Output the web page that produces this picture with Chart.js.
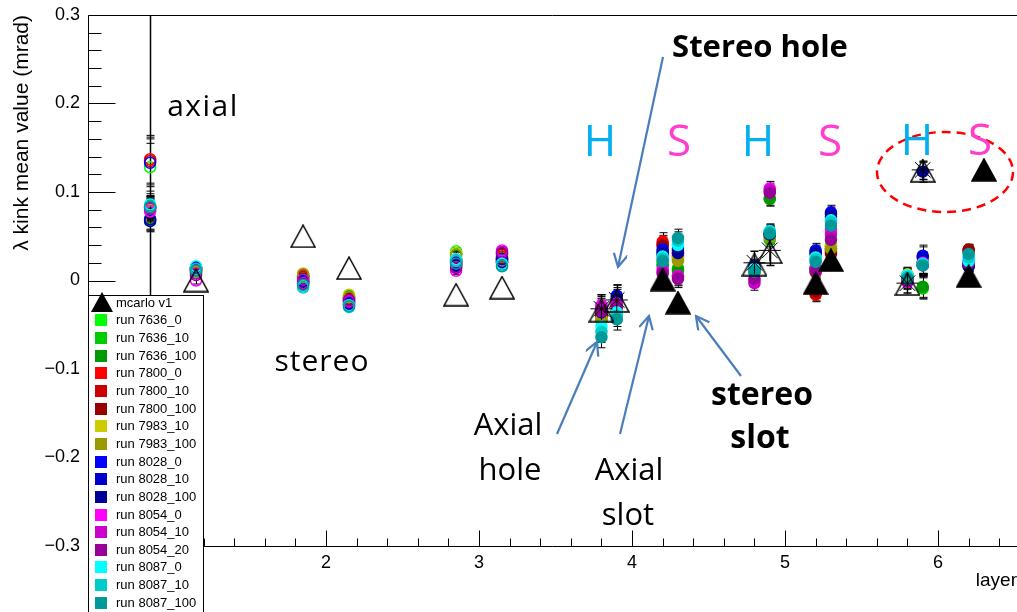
<!DOCTYPE html>
<html>
<head>
<meta charset="utf-8">
<script src="https://cdn.jsdelivr.net/npm/chart.js@4.4.1/dist/chart.umd.min.js"></script>
<style>
html, body { margin: 0; padding: 0; background: #fff; }
#wrap { position: relative; width: 1017px; height: 612px; overflow: hidden; }
#c { position: absolute; left: 0; top: 0; }
#ann { position: absolute; left: 0; top: 0; }
.note { position: absolute; font-family: "Open Sans", sans-serif; white-space: nowrap; line-height: 1; transform: translateX(-50%); color: #000; }
#legend { position: absolute; left: 88px; top: 295px; width: 116px; height: 340px; box-sizing: border-box; border: 1px solid #000; background: #fff; font: 13px "Liberation Sans", Arial, sans-serif; }
#legend .row { position: absolute; left: 0; height: 18px; line-height: 18px; white-space: nowrap; }
#legend .sq { position: absolute; left: 6px; top: 3px; width: 12px; height: 12px; }
#legend .txt { position: absolute; left: 27px; top: 0; }
</style>
</head>
<body>
<div id="wrap">
<canvas id="c" width="1017" height="612"></canvas>
<svg id="ann" width="1017" height="612">
  <defs>
    <marker id="ah" markerWidth="16" markerHeight="16" refX="14" refY="7" orient="auto" markerUnits="userSpaceOnUse">
      <path d="M1,0 L14,7 L1,14" fill="none" stroke="#4a7ebb" stroke-width="2.2"/>
    </marker>
  </defs>
  <g stroke="#4a7ebb" stroke-width="2.2" fill="none" marker-end="url(#ah)">
    <line x1="663" y1="57" x2="618" y2="267"/>
    <line x1="557" y1="434" x2="597" y2="342"/>
    <line x1="620" y1="434" x2="649" y2="316"/>
    <line x1="741" y1="376" x2="696" y2="316"/>
  </g>
  <ellipse cx="945" cy="172" rx="68" ry="40" fill="none" stroke="#ff0000" stroke-width="2.5" stroke-dasharray="9 6"/>
</svg>
<div id="notes"></div>
<div id="legend"></div>
</div>
<script>
// layer positions (axial/stereo, hole/slot offsets)
const layers = [0.85, 1.15, 1.85, 2.15, 2.85, 3.15, 3.8, 3.9, 4.2, 4.3, 4.8, 4.9, 5.2, 5.3, 5.8, 5.9, 6.2, 6.3];

// mcarlo v1 (triangles)
const mcarlo    = [-0.06, 0.0, 0.05, 0.014, -0.016, -0.008, -0.034, -0.023, 0.001, -0.025, 0.018, 0.032, -0.003, 0.023, -0.004, 0.124, 0.005, 0.125];
const mcarloErr = [0.4, 0, 0, 0, 0, 0, 0.018, 0.018, 0, 0, 0.015, 0.015, 0, 0, 0.01, 0.01, 0, 0];
// second mc sample, only on the hole layers (asterisks)
const mcarloStar = [null, null, null, null, null, null, -0.032, -0.022, null, null, 0.02, 0.034, null, null, -0.003, 0.125, null, null];

// run errors: per run on the first layer, shared on the others
const runErrFirst = [0.027, 0.012, 0.012, 0.027, 0.027, 0.012, 0.012, 0.012, 0.027, 0.012, 0.012, 0.012, 0.012, 0.012, 0.012, 0.012, 0.012];
const runErr = [null, 0.004, 0.004, 0.004, 0.004, 0.004, 0.012, 0.012, 0.01, 0.01, 0.008, 0.008, 0.008, 0.008, 0.008, 0.012, 0.006, 0];

const runNames = ["run 7636_0", "run 7636_10", "run 7636_100", "run 7800_0", "run 7800_10", "run 7800_100",
    "run 7983_10", "run 7983_100", "run 8028_0", "run 8028_10", "run 8028_100",
    "run 8054_0", "run 8054_10", "run 8054_20", "run 8087_0", "run 8087_10", "run 8087_100"];
const runColors = ["#00ff00", "#00cc00", "#009900", "#ff0000", "#cc0000", "#990000",
    "#cccc00", "#999900", "#0000ff", "#0000cc", "#000099",
    "#ff00ff", "#cc00cc", "#990099", "#00ffff", "#00cccc", "#009999"];

const run7636_0   = [0.128, 0.010, 0.004, -0.017, 0.033, 0.026, -0.040, -0.030, 0.020, 0.012, 0.012, 0.093, 0.015, 0.040, 0.004, -0.008, 0.017, null];
const run7636_10  = [0.068, 0.009, 0.003, -0.019, 0.030, 0.025, -0.042, -0.032, 0.018, 0.014, 0.010, 0.046, 0.013, 0.038, 0.002, -0.009, 0.016, null];
const run7636_100 = [0.070, 0.011, 0.005, -0.018, 0.028, 0.024, -0.045, -0.035, 0.016, 0.011, 0.011, 0.092, 0.012, 0.036, 0.003, -0.007, 0.018, null];
const run7800_0   = [0.137, 0.012, 0.006, -0.022, 0.024, 0.027, -0.035, -0.025, 0.044, 0.030, 0.014, 0.052, -0.016, 0.035, 0.006, 0.020, 0.034, null];
const run7800_10  = [0.135, 0.012, 0.004, -0.020, 0.022, 0.029, -0.038, -0.027, 0.041, 0.028, 0.013, 0.050, -0.015, 0.033, 0.005, 0.019, 0.033, null];
const run7800_100 = [0.082, 0.011, 0.002, -0.024, 0.020, 0.025, -0.040, -0.030, 0.039, 0.026, 0.012, 0.051, -0.012, 0.030, 0.004, 0.018, 0.035, null];
const run7983_10  = [0.080, 0.010, 0.008, -0.016, 0.031, 0.023, -0.043, -0.032, 0.030, 0.024, 0.010, 0.050, 0.010, 0.038, 0.007, 0.020, 0.020, null];
const run7983_100 = [0.079, 0.009, 0.007, -0.019, 0.029, 0.022, -0.045, -0.034, 0.028, 0.022, 0.009, 0.049, 0.009, 0.036, 0.005, 0.019, 0.019, null];
const run8028_0   = [0.133, 0.014, 0.000, -0.026, 0.020, 0.024, -0.030, -0.017, 0.035, 0.036, 0.015, 0.054, 0.034, 0.077, 0.003, 0.028, 0.018, null];
const run8028_10  = [0.069, 0.015, -0.002, -0.027, 0.018, 0.021, -0.033, -0.020, 0.033, 0.034, 0.016, 0.053, 0.032, 0.075, 0.002, 0.026, 0.017, null];
const run8028_100 = [0.067, 0.013, -0.001, -0.025, 0.017, 0.020, -0.036, -0.022, 0.030, 0.031, 0.013, 0.052, 0.030, 0.072, 0.001, 0.123, 0.016, null];
const run8054_0   = [0.078, 0.000, -0.003, -0.023, 0.011, 0.034, -0.028, -0.026, 0.012, 0.005, 0.000, 0.104, 0.014, 0.058, -0.002, 0.020, 0.021, null];
const run8054_10  = [0.081, 0.008, 0.001, -0.024, 0.015, 0.032, -0.032, -0.028, 0.010, 0.004, -0.003, 0.102, 0.012, 0.052, 0.000, 0.018, 0.020, null];
const run8054_20  = [0.083, 0.006, -0.004, -0.022, 0.014, 0.031, -0.035, -0.030, 0.008, 0.002, 0.002, 0.099, 0.010, 0.046, -0.001, 0.017, 0.019, null];
const run8087_0   = [0.086, 0.016, -0.006, -0.028, 0.024, 0.019, -0.052, -0.036, 0.027, 0.040, 0.013, 0.056, 0.026, 0.068, 0.006, 0.019, 0.022, null];
const run8087_10  = [0.084, 0.013, -0.008, -0.030, 0.022, 0.017, -0.058, -0.040, 0.025, 0.045, 0.011, 0.055, 0.024, 0.066, 0.004, 0.018, 0.026, null];
const run8087_100 = [0.083, 0.011, -0.005, -0.029, 0.019, 0.016, -0.064, -0.044, 0.022, 0.048, 0.010, 0.053, 0.021, 0.062, 0.002, 0.017, 0.030, null];

const runValues = [run7636_0, run7636_10, run7636_100, run7800_0, run7800_10, run7800_100,
    run7983_10, run7983_100, run8028_0, run8028_10, run8028_100,
    run8054_0, run8054_10, run8054_20, run8087_0, run8087_10, run8087_100];

// markers
function triMarker(filled) {
    const c = document.createElement("canvas");
    c.width = 26; c.height = 24;
    const g = c.getContext("2d");
    g.beginPath();
    g.moveTo(13, 1); g.lineTo(25, 23); g.lineTo(1, 23); g.closePath();
    if (filled) { g.fillStyle = "#000"; g.fill(); }
    g.strokeStyle = "#000"; g.lineWidth = 1.5; g.stroke();
    return c;
}
const triOpen = triMarker(false);
const triFilled = triMarker(true);
const isSlot = l => l > 4 && (l % 1) > 0.15 && (l % 1) < 0.35;

// error bars drawn under the markers
const errorBars = {
    id: "errorBars",
    beforeDatasetsDraw(chart) {
        const {ctx, chartArea: a, scales: {x, y}} = chart;
        ctx.save();
        ctx.beginPath();
        ctx.rect(a.left, a.top, a.right - a.left, a.bottom - a.top);
        ctx.clip();
        ctx.strokeStyle = "#000";
        chart.data.datasets.forEach(ds => {
            if (!ds.errors) return;
            ctx.lineWidth = ds.errWidth || 1;
            ds.data.forEach((p, j) => {
                const e = ds.errors[j];
                if (p.y == null || !e) return;
                const px = Math.round(x.getPixelForValue(p.x)) + 0.5;
                const t = y.getPixelForValue(p.y + e), b = y.getPixelForValue(p.y - e);
                ctx.beginPath();
                ctx.moveTo(px, t); ctx.lineTo(px, b);
                ctx.moveTo(px - 4, t); ctx.lineTo(px + 4, t);
                ctx.moveTo(px - 4, b); ctx.lineTo(px + 4, b);
                ctx.stroke();
            });
        });
        ctx.restore();
    }
};

// ROOT style frame with ticks pointing inwards
const rootFrame = {
    id: "rootFrame",
    afterDatasetsDraw(chart) {
        const {ctx, chartArea: a, scales: {x, y}} = chart;
        ctx.save();
        ctx.strokeStyle = "#000";
        ctx.lineWidth = 1;
        ctx.beginPath();
        const L = a.left + 0.5, T = a.top + 0.5, B = a.bottom + 0.5;
        ctx.moveTo(L, B); ctx.lineTo(L, T); ctx.lineTo(a.right, T);
        ctx.moveTo(L, B); ctx.lineTo(a.right, B);
        for (let k = -15; k <= 15; k++) {
            const py = Math.round(y.getPixelForValue(k * 0.02)) + 0.5;
            ctx.moveTo(L, py); ctx.lineTo(L + (k % 5 === 0 ? 27 : 13), py);
        }
        for (let k = Math.ceil(x.min * 5); k <= Math.floor(x.max * 5); k++) {
            const px = Math.round(x.getPixelForValue(k / 5)) + 0.5;
            ctx.moveTo(px, B); ctx.lineTo(px, B - (k % 5 === 0 ? 16 : 8));
        }
        ctx.stroke();
        ctx.restore();
    }
};

const datasets = [];
datasets.push({
    label: "mcarlo star",
    data: layers.map((x, i) => ({x: x, y: mcarloStar[i]})),
    pointStyle: "star",
    pointRadius: 11,
    pointBorderColor: "#000",
    pointBorderWidth: 1,
    order: 0
});
datasets.push({
    label: "mcarlo v1",
    data: layers.map((x, i) => ({x: x, y: mcarlo[i]})),
    errors: mcarloErr,
    errWidth: 1.5,
    pointStyle: ctx => (ctx.raw && isSlot(ctx.raw.x)) ? triFilled : triOpen,
    pointRadius: 12,
    order: 1
});
runNames.forEach((name, i) => {
    const c = runColors[i];
    datasets.push({
        label: name,
        data: layers.map((x, j) => ({x: x, y: runValues[i][j]})),
        errors: layers.map((x, j) => j === 0 ? runErrFirst[i] : runErr[j]),
        pointStyle: "circle",
        pointRadius: 5.5,
        pointBorderWidth: 1.5,
        pointBorderColor: c,
        pointBackgroundColor: ctx => (ctx.raw && ctx.raw.x > 3.5) ? c : "rgba(0,0,0,0)",
        order: 2 + (runNames.length - 1 - i)
    });
});

Chart.defaults.font.family = '"Liberation Sans", Arial, sans-serif';
Chart.defaults.color = "#000";

const chart = new Chart(document.getElementById("c"), {
    type: "scatter",
    data: {datasets: datasets},
    options: {
        responsive: false,
        animation: false,
        layout: {autoPadding: false, padding: {top: 15, right: 0, left: 0, bottom: 0}},
        plugins: {legend: {display: false}, tooltip: {enabled: false}},
        scales: {
            x: {
                type: "linear", min: 0.444, max: 6.516,
                afterFit: s => { s.height = 66; s.paddingLeft = 0; s.paddingRight = 0; },
                grid: {display: false, drawTicks: false},
                border: {display: false},
                ticks: {
                    stepSize: 1, includeBounds: false, autoSkip: false, maxRotation: 0, padding: 6,
                    font: {size: 18},
                    callback: v => Number.isInteger(v) ? String(v) : ""
                },
                title: {display: true, text: "layer", align: "end", font: {size: 19}, padding: {top: 0, bottom: 20}}
            },
            y: {
                type: "linear", min: -0.3, max: 0.3,
                afterFit: s => { s.width = 88; s.paddingTop = 0; s.paddingBottom = 0; },
                grid: {display: false, drawTicks: false},
                border: {display: false},
                ticks: {
                    stepSize: 0.1, padding: 8, font: {size: 18},
                    callback: v => Math.abs(v) < 1e-9 ? "0" : (v < 0 ? "\u2212" : "") + Math.abs(v).toFixed(1)
                },
                title: {display: true, text: "\u03bb kink mean value (mrad)", align: "end", font: {size: 21}, padding: {top: 10, bottom: 0}}
            }
        }
    },
    plugins: [errorBars, rootFrame]
});

// legend box
const legend = document.getElementById("legend");
const rows = [{name: "mcarlo v1", tri: true}].concat(runNames.map((n, i) => ({name: n, color: runColors[i]})));
rows.forEach((r, i) => {
    const row = document.createElement("div");
    row.className = "row";
    row.style.top = (6.7 + i * 17.65 - 9) + "px";
    if (r.tri) {
        row.innerHTML = '<svg width="24" height="22" style="position:absolute;left:1px;top:-2px;overflow:visible"><polygon points="12,0 23,20 1,20" fill="#000"/></svg>';
    } else {
        row.innerHTML = '<div class="sq" style="background:' + r.color + '"></div>';
    }
    row.innerHTML += '<span class="txt">' + r.name + '</span>';
    legend.appendChild(row);
});

// text annotations
const notes = [
    {t: "axial", x: 203, base: 117, size: 30, ls: 1.5},
    {t: "stereo", x: 322, base: 372, size: 30, ls: 1},
    {t: "Stereo hole", x: 760, base: 58, size: 31, bold: true},
    {t: "Axial", x: 508, base: 436, size: 31},
    {t: "hole", x: 510, base: 481, size: 31},
    {t: "Axial", x: 629, base: 481, size: 31},
    {t: "slot", x: 628, base: 526, size: 31},
    {t: "stereo", x: 762, base: 405, size: 32, bold: true},
    {t: "slot", x: 760, base: 448, size: 32, bold: true},
    {t: "H", x: 600, base: 156, size: 44, color: "#00b0f0"},
    {t: "S", x: 679, base: 156, size: 44, color: "#ff3dcf"},
    {t: "H", x: 758, base: 156, size: 44, color: "#00b0f0"},
    {t: "S", x: 830, base: 156, size: 44, color: "#ff3dcf"},
    {t: "H", x: 917, base: 155, size: 44, color: "#00b0f0"},
    {t: "S", x: 980, base: 155, size: 44, color: "#ff3dcf"}
];
const notesDiv = document.getElementById("notes");
notes.forEach(n => {
    const d = document.createElement("div");
    d.className = "note";
    d.textContent = n.t;
    d.style.left = n.x + "px";
    d.style.top = (n.base - 0.888 * n.size) + "px";
    d.style.fontSize = n.size + "px";
    if (n.ls) d.style.letterSpacing = n.ls + "px";
    if (n.bold) d.style.fontWeight = "bold";
    if (n.color) d.style.color = n.color;
    notesDiv.appendChild(d);
});
</script>
</body>
</html>
